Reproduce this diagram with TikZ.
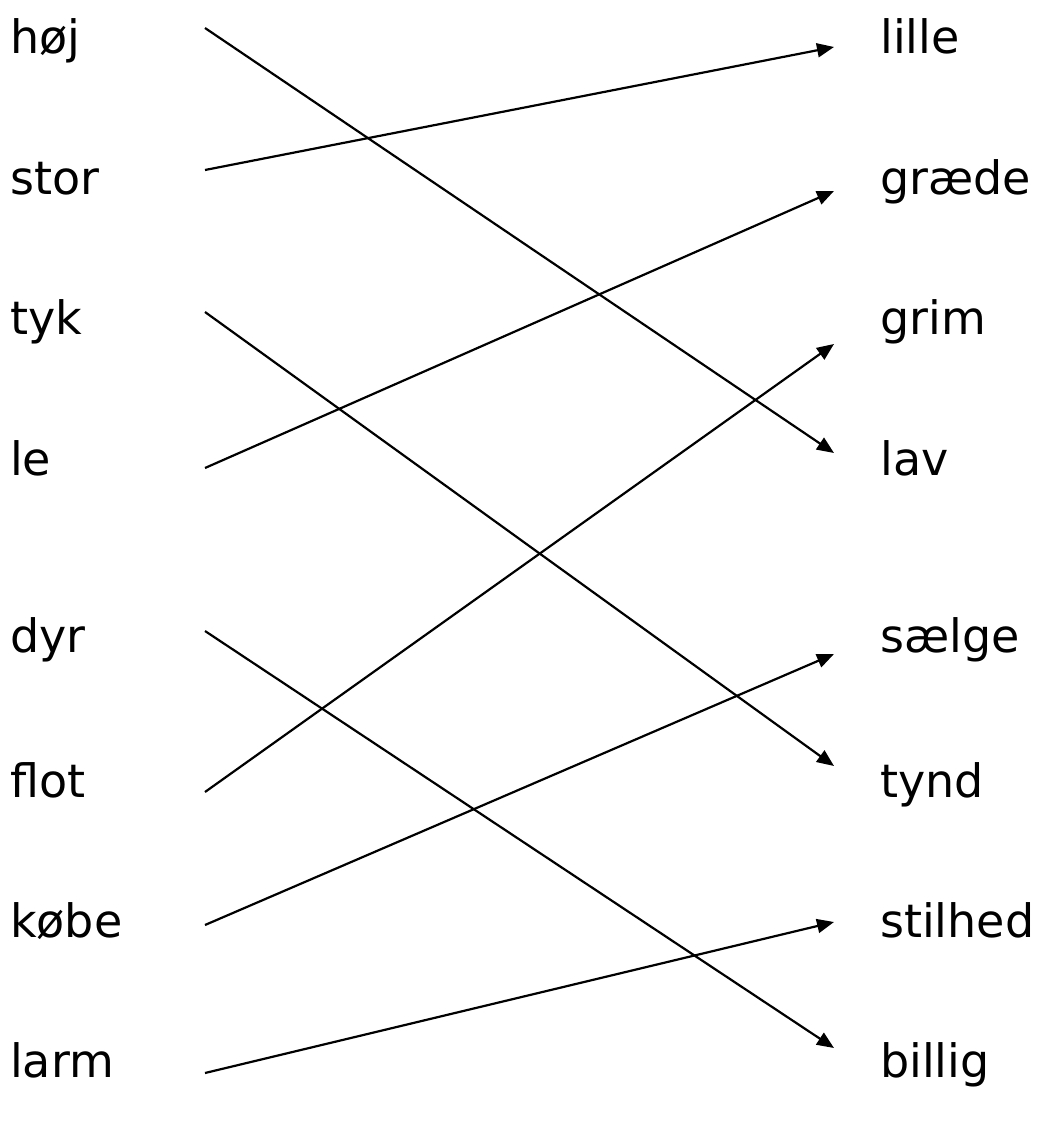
\documentclass[tikz,border=0pt]{standalone}
\usepackage{fontspec}
\setmainfont{DejaVu Sans}
\usetikzlibrary{arrows.meta}

\begin{document}
\begin{tikzpicture}[x=1pt,y=-1pt,
  word/.style={anchor=base west,inner sep=0pt,font=\fontsize{46}{50}\selectfont},
  pair/.style={line width=2.2pt,-{Triangle[length=17pt,width=14pt]}}]
\useasboundingbox (0,0) rectangle (1037,1121);
% left column
\node[word] (hoj) at (10,54) {høj};
\node[word] (stor) at (10,194) {stor};
\node[word] (tyk) at (10,334) {tyk};
\node[word] (le) at (10,475) {le};
\node[word] (dyr) at (10,652) {dyr};
\node[word] (flot) at (10,797) {flot};
\node[word] (kobe) at (10,937) {købe};
\node[word] (larm) at (10,1077) {larm};
% right column
\node[word] (lille) at (880,54) {lille};
\node[word] (graede) at (880,194) {græde};
\node[word] (grim) at (880,334) {grim};
\node[word] (lav) at (880,475) {lav};
\node[word] (saelge) at (880,652) {sælge};
\node[word] (tynd) at (880,797) {tynd};
\node[word] (stilhed) at (880,937) {stilhed};
\node[word] (billig) at (880,1077) {billig};
% line ends
\coordinate (hoj-out) at (205,28);
\coordinate (stor-out) at (205,170);
\coordinate (tyk-out) at (205,312);
\coordinate (le-out) at (205,468);
\coordinate (dyr-out) at (205,631);
\coordinate (flot-out) at (205,792);
\coordinate (kobe-out) at (205,925);
\coordinate (larm-out) at (205,1073);
\coordinate (lille-in) at (834,47);
\coordinate (graede-in) at (834,191);
\coordinate (grim-in) at (834,344);
\coordinate (lav-in) at (834,453);
\coordinate (saelge-in) at (834,654);
\coordinate (tynd-in) at (834,766);
\coordinate (stilhed-in) at (834,922);
\coordinate (billig-in) at (834,1048);
% pairs
\draw[pair] (hoj-out) -- (lav-in);
\draw[pair] (stor-out) -- (lille-in);
\draw[pair] (tyk-out) -- (tynd-in);
\draw[pair] (le-out) -- (graede-in);
\draw[pair] (dyr-out) -- (billig-in);
\draw[pair] (flot-out) -- (grim-in);
\draw[pair] (kobe-out) -- (saelge-in);
\draw[pair] (larm-out) -- (stilhed-in);
\end{tikzpicture}
\end{document}
